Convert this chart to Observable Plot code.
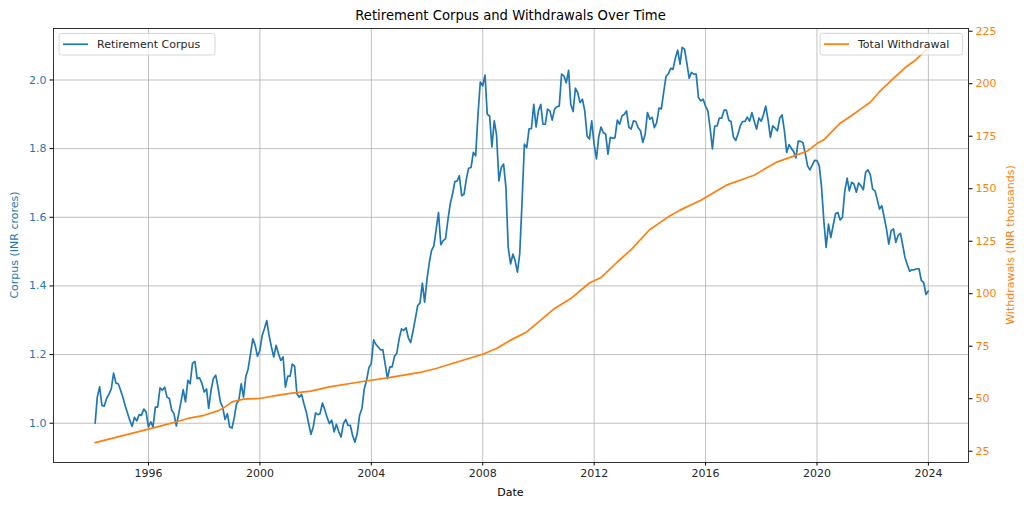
<!DOCTYPE html>
<html>
<head>
<meta charset="utf-8">
<script src="https://cdn.jsdelivr.net/npm/d3@7"></script>
<script src="https://cdn.jsdelivr.net/npm/@observablehq/plot@0.6"></script>
<style>
  html, body { margin: 0; padding: 0; background: white; }
  #chart { width: 1024px; height: 508px; }
</style>
</head>
<body>
<div id="chart"></div>
<script>
// ---- Data ----
const corpusStart = "1994-01"; // monthly (month-end) values from this month
const corpusValues = [
  1.000,1.076,1.106,1.052,1.050,1.072,1.085,1.100,1.146,1.117,1.115,1.096, // 1994
  1.075,1.052,1.030,1.009,0.991,1.017,1.007,1.025,1.023,1.041,1.033,0.989, // 1995
  1.004,0.989,1.047,1.047,1.103,1.096,1.105,1.076,1.072,1.038,1.028,0.992, // 1996
  1.028,1.060,1.098,1.062,1.125,1.115,1.175,1.180,1.130,1.132,1.117,1.091, // 1997
  1.100,1.043,1.096,1.130,1.140,1.105,1.062,1.047,1.011,1.028,0.989,0.986, // 1998
  1.018,1.057,1.067,1.115,1.076,1.136,1.159,1.203,1.246,1.227,1.195,1.212, // 1999
  1.256,1.275,1.299,1.256,1.222,1.193,1.227,1.203,1.183,1.193,1.105,1.137, // 2000
  1.137,1.172,1.166,1.086,1.076,1.084,1.057,1.033,1.000,0.968,0.989,1.030, // 2001
  1.025,1.028,1.059,1.040,1.017,0.999,1.009,0.975,0.997,0.975,0.960,0.999, // 2002
  1.011,0.994,0.994,0.965,0.945,0.970,1.023,1.043,1.100,1.125,1.162,1.173, // 2003
  1.243,1.230,1.222,1.214,1.214,1.173,1.130,1.164,1.164,1.195,1.204,1.246, // 2004
  1.275,1.270,1.278,1.249,1.235,1.268,1.304,1.343,1.350,1.408,1.353,1.420, // 2005
  1.469,1.503,1.517,1.565,1.614,1.520,1.532,1.537,1.590,1.638,1.667,1.704, // 2006
  1.706,1.721,1.663,1.667,1.711,1.743,1.745,1.789,1.779,1.900,1.994,1.983, // 2007
  2.014,1.900,1.895,1.805,1.881,1.840,1.706,1.745,1.755,1.687,1.512,1.464, // 2008
  1.493,1.474,1.440,1.493,1.648,1.813,1.803,1.858,1.858,1.929,1.863,1.910, // 2009
  1.929,1.871,1.871,1.915,1.910,1.883,1.915,1.922,1.924,2.017,2.012,1.992, // 2010
  2.028,1.929,1.908,1.976,1.963,1.934,1.944,1.910,1.837,1.828,1.881,1.813, // 2011
  1.770,1.833,1.863,1.847,1.842,1.784,1.833,1.830,1.832,1.883,1.871,1.895, // 2012
  1.900,1.910,1.863,1.857,1.881,1.879,1.861,1.852,1.818,1.842,1.905,1.886, // 2013
  1.891,1.861,1.876,1.918,1.916,1.963,2.010,2.018,2.034,2.031,2.063,2.087, // 2014
  2.046,2.095,2.090,2.050,2.005,2.022,2.017,2.017,1.949,1.939,1.944,1.924, // 2015
  1.910,1.861,1.799,1.866,1.866,1.889,1.889,1.912,1.912,1.883,1.879,1.834, // 2016
  1.824,1.842,1.866,1.879,1.879,1.892,1.880,1.905,1.880,1.857,1.889,1.880, // 2017
  1.900,1.924,1.883,1.833,1.866,1.860,1.852,1.889,1.898,1.852,1.789,1.812, // 2018
  1.800,1.792,1.773,1.822,1.821,1.818,1.786,1.750,1.738,1.752,1.766,1.765, // 2019
  1.750,1.690,1.590,1.512,1.580,1.541,1.576,1.610,1.614,1.592,1.600,1.677, // 2020
  1.714,1.677,1.702,1.697,1.673,1.700,1.692,1.680,1.731,1.738,1.724,1.682, // 2021
  1.677,1.653,1.624,1.634,1.600,1.566,1.522,1.561,1.566,1.527,1.547,1.553, // 2022
  1.517,1.483,1.462,1.443,1.447,1.447,1.450,1.450,1.416,1.410,1.375,1.385  // 2023
];

const withdrawalDates = [
  "1994-01","1995-12","1996-12","1997-05","1997-12","1998-06","1998-09","1998-12",
  "1999-05","1999-12","2000-08","2001-01","2001-10","2002-06","2003-09","2004-07",
  "2005-09","2006-04","2007-01","2007-12","2008-06","2008-12","2009-07","2010-01",
  "2010-07","2011-02","2011-10","2012-03","2012-10","2013-04","2013-12","2014-08",
  "2015-01","2015-10","2016-09","2017-05","2017-09","2018-01","2018-07","2019-02",
  "2019-08","2019-12","2020-03","2020-10","2021-03","2021-07","2021-11","2022-03",
  "2022-09","2023-02","2023-06","2023-11","2023-12"
];
const withdrawalValues = [
  29.1,35.5,39.0,40.6,42.1,44.2,46.1,48.5,
  49.8,50.1,51.7,52.5,53.6,55.6,58.3,59.9,
  62.5,64.4,67.5,71.2,73.9,77.9,81.8,87.4,
  93.0,97.7,105.1,107.7,115.1,121.0,130.6,136.6,
  139.8,144.5,151.7,154.9,156.4,159.1,162.8,165.5,
  168.0,171.5,173.3,181.2,184.9,188.0,191.2,196.2,
  202.6,207.6,210.8,216.0,216.5
];

const xTickYears = [1996, 2000, 2004, 2008, 2012, 2016, 2020, 2024];
const corpusTicks = [1.0, 1.2, 1.4, 1.6, 1.8, 2.0];
const withdrawalTicks = [25, 50, 75, 100, 125, 150, 175, 200, 225];

const titleText = "Retirement Corpus and Withdrawals Over Time";
const xLabel = "Date";
const yLeftLabel = "Corpus (INR crores)";
const yRightLabel = "Withdrawals (INR thousands)";
const corpusName = "Retirement Corpus";
const withdrawalName = "Total Withdrawal";

// ---- Build tables ----
const monthEnd = s => { const [y, m] = s.split("-").map(Number); return new Date(Date.UTC(y, m, 0)); };
const [sy, sm] = corpusStart.split("-").map(Number);
const corpus = corpusValues.map((v, i) => ({ date: new Date(Date.UTC(sy, sm - 1 + i + 1, 0)), value: v }));
const withdrawals = withdrawalDates.map((d, i) => ({ date: monthEnd(d), value: withdrawalValues[i] }));
const xTicks = xTickYears.map(y => new Date(Date.UTC(y, 0, 1)));

// ---- Scales ----
const blue = "#1f77b4", orange = "#ff7f0e";
const yDomain = [0.8856, 2.150];
const wDomain = [19.62, 226.3];
const toY = d3.scaleLinear().domain(wDomain).range(yDomain);
const xDomain = [new Date(Date.UTC(1992, 7, 3)), new Date(Date.UTC(2025, 5, 10))];

const W = 1024, H = 508;
const mL = 53, mR = 56, mT = 28, mB = 46;
const gridStyle = { stroke: "#b0b0b0", strokeOpacity: 1, strokeWidth: 0.8 };

const chart = Plot.plot({
  width: W, height: H,
  marginLeft: mL, marginRight: mR, marginTop: mT, marginBottom: mB,
  x: { type: "utc", domain: xDomain },
  y: { domain: yDomain },
  style: { fontFamily: "DejaVu Sans, sans-serif", fontSize: "11px", background: "white", color: "black" },
  marks: [
    Plot.gridX(xTicks, gridStyle),
    Plot.gridY(corpusTicks, gridStyle),
    Plot.line(corpus, { x: "date", y: "value", stroke: blue, strokeWidth: 1.7 }),
    Plot.line(withdrawals, { x: "date", y: d => toY(d.value), stroke: orange, strokeWidth: 1.7 }),
    Plot.axisX(xTicks, { tickSize: 3.5, tickPadding: 3.5, tickFormat: d3.utcFormat("%Y"), label: null, stroke: "black", fill: "#262626", fontSize: 11 }),
    Plot.axisY(corpusTicks, { anchor: "left", tickSize: 3.5, tickPadding: 3.5, tickFormat: d3.format(".1f"), label: null, stroke: "black", fill: blue, fontSize: 11 }),
    Plot.axisY(withdrawalTicks.map(t => toY(t)), { anchor: "right", tickSize: 3.5, tickPadding: 3.5, tickFormat: d => String(Math.round(toY.invert(d))), label: null, stroke: "black", fill: orange, fontSize: 11 }),
    Plot.frame({ stroke: "black", strokeWidth: 0.8 })
  ]
});

document.getElementById("chart").appendChild(chart);

// ---- Title, axis labels, legends ----
const svg = d3.select(chart);
const font = "DejaVu Sans, sans-serif";
const cx = (mL + (W - mR)) / 2;

svg.append("text").attr("x", cx).attr("y", 20).attr("text-anchor", "middle")
  .attr("font-family", font).attr("font-size", 13.2).attr("fill", "black").text(titleText);
svg.append("text").attr("x", cx).attr("y", 496).attr("text-anchor", "middle")
  .attr("font-family", font).attr("font-size", 11).attr("fill", "black").text(xLabel);
svg.append("text").attr("transform", `translate(18,${(mT + H - mB) / 2}) rotate(-90)`).attr("text-anchor", "middle")
  .attr("font-family", font).attr("font-size", 11).attr("fill", blue).text(yLeftLabel);
svg.append("text").attr("transform", `translate(1014,${(mT + H - mB) / 2}) rotate(-90)`).attr("text-anchor", "middle")
  .attr("font-family", font).attr("font-size", 11).attr("fill", orange).text(yRightLabel);

function legend(x, y, w, h, color, label) {
  const g = svg.append("g");
  g.append("rect").attr("x", x).attr("y", y).attr("width", w).attr("height", h).attr("rx", 2.5)
    .attr("fill", "white").attr("fill-opacity", 0.8).attr("stroke", "#cccccc").attr("stroke-width", 0.8);
  g.append("line").attr("x1", x + 4).attr("x2", x + 29).attr("y1", y + h / 2).attr("y2", y + h / 2)
    .attr("stroke", color).attr("stroke-width", 1.7);
  g.append("text").attr("x", x + 38).attr("y", y + h / 2 + 4).attr("text-anchor", "start")
    .attr("font-family", font).attr("font-size", 11).attr("fill", "#262626").text(label);
}
legend(59, 33.5, 156, 21.5, blue, corpusName);
legend(820, 33.3, 142.7, 21.7, orange, withdrawalName);
</script>
</body>
</html>
